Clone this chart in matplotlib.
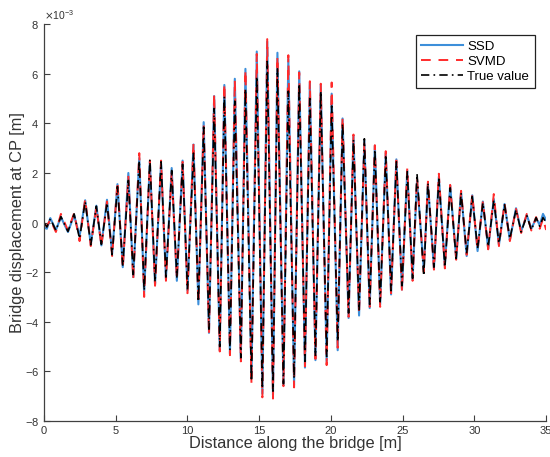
import matplotlib
matplotlib.use("Agg")
import matplotlib.pyplot as plt
from matplotlib.ticker import ScalarFormatter
import numpy as np

# peak/trough positions along the bridge [m]
dist_extrema = [
    0.00, 0.20, 0.44, 0.83, 1.18, 1.67, 2.10, 2.48, 2.87, 3.26,
    3.65, 4.00, 4.39, 4.75, 5.12, 5.49, 5.88, 6.22, 6.64, 6.98,
    7.38, 7.74, 8.16, 8.50, 8.90, 9.26, 9.66, 10.00, 10.42, 10.76,
    11.13, 11.50, 11.86, 12.25, 12.57, 12.96, 13.30, 13.72, 14.04, 14.46,
    14.83, 15.22, 15.56, 15.96, 16.27, 16.69, 17.03, 17.43, 17.79, 18.19,
    18.53, 18.92, 19.29, 19.70, 20.05, 20.47, 20.81, 21.23, 21.57, 21.96,
    22.33, 22.70, 23.06, 23.43, 23.82, 24.19, 24.56, 24.95, 25.32, 25.69,
    26.00, 26.47, 26.76, 27.18, 27.52, 27.94, 28.31, 28.73, 29.07, 29.46,
    29.85, 30.22, 30.59, 30.96, 31.35, 31.71, 32.10, 32.47, 32.90, 33.26,
    33.65, 33.97, 34.30, 34.55, 34.78, 35.00,
]

# displacement at the extrema, in mm (x10^-3 m)
ssd_mm = [
    -0.20, -0.25, 0.18, -0.30, 0.22, -0.38, 0.30, -0.55, 0.90, -0.88,
    0.68, -0.92, 0.92, -1.25, 1.55, -1.80, 2.00, -2.20, 2.60, -2.85,
    2.45, -2.50, 2.40, -2.25, 2.20, -2.35, 2.50, -2.75, 3.15, -3.30,
    4.05, -4.45, 5.10, -5.15, 5.55, -5.30, 5.80, -5.50, 6.20, -6.25,
    6.90, -6.90, 7.30, -6.95, 6.85, -6.55, 6.60, -6.55, 6.10, -5.85,
    5.65, -5.55, 5.55, -5.60, 5.20, -5.15, 4.20, -3.85, 3.50, -3.75,
    3.30, -3.45, 3.10, -3.30, 2.80, -2.90, 2.55, -2.70, 2.10, -2.30,
    1.70, -1.90, 1.55, -1.85, 1.85, -1.75, 1.50, -1.45, 1.25, -1.35,
    1.10, -1.15, 0.85, -1.05, 0.95, -0.90, 0.75, -0.70, 0.58, -0.35,
    0.30, -0.25, 0.18, -0.10, 0.35, 0.10,
]

svmd_mm = [
    -0.05, -0.15, 0.12, -0.38, 0.35, -0.32, 0.38, -0.75, 0.95, -0.95,
    0.62, -0.95, 0.85, -1.35, 1.65, -1.85, 1.85, -2.30, 2.80, -3.00,
    2.50, -2.55, 2.50, -2.35, 2.05, -2.30, 2.45, -2.85, 3.20, -3.25,
    3.95, -4.50, 5.20, -5.20, 5.60, -5.35, 5.75, -5.60, 6.15, -6.50,
    6.80, -7.05, 7.40, -7.10, 6.70, -6.60, 6.75, -6.65, 6.05, -5.80,
    5.70, -5.50, 5.60, -5.75, 5.65, -5.05, 4.25, -3.80, 3.55, -3.70,
    3.25, -3.40, 3.12, -3.40, 2.88, -2.85, 2.50, -2.75, 2.20, -2.35,
    1.80, -2.00, 1.65, -1.90, 1.97, -1.85, 1.52, -1.50, 1.28, -1.30,
    1.13, -1.10, 0.85, -1.08, 1.15, -0.95, 0.78, -0.75, 0.55, -0.42,
    0.35, -0.32, 0.22, -0.25, 0.15, -0.30,
]

true_mm = [
    0.00, -0.18, 0.15, -0.32, 0.24, -0.36, 0.35, -0.65, 0.85, -0.90,
    0.66, -0.88, 0.80, -1.30, 1.45, -1.75, 1.70, -2.10, 2.50, -2.75,
    2.55, -2.40, 2.45, -2.20, 2.10, -2.20, 2.35, -2.70, 2.80, -3.20,
    3.85, -4.30, 4.60, -5.00, 5.10, -5.15, 4.90, -5.45, 5.40, -6.40,
    5.90, -6.70, 6.50, -6.80, 6.20, -6.50, 5.30, -6.30, 5.60, -5.60,
    5.00, -5.40, 5.30, -5.40, 4.70, -4.80, 4.00, -3.65, 3.35, -3.55,
    3.38, -3.30, 2.95, -3.20, 2.65, -2.75, 2.45, -2.55, 2.05, -2.25,
    1.97, -2.15, 1.60, -1.80, 1.75, -1.80, 1.40, -1.45, 1.20, -1.25,
    1.05, -1.05, 0.80, -0.98, 0.90, -0.85, 0.72, -0.65, 0.52, -0.38,
    0.28, -0.30, 0.20, -0.15, 0.20, 0.00,
]

x_ticks = [0, 5, 10, 15, 20, 25, 30, 35]
y_ticks_mm = [-8, -6, -4, -2, 0, 2, 4, 6, 8]

plt.rcParams["font.family"] = "Liberation Sans"
plt.rcParams["axes.unicode_minus"] = False

fig = plt.figure(figsize=(5.5, 4.57), dpi=100)
ax = fig.add_axes([0.080, 0.079, 0.913, 0.868])

x = np.array(dist_extrema)
ax.plot(x, np.array(ssd_mm) * 1e-3, color="#3d8fda", lw=1.5, label="SSD")
ax.plot(x, np.array(svmd_mm) * 1e-3, color="#ff2b2b", lw=1.4,
        dashes=(5, 4), label="SVMD")
ax.plot(x, np.array(true_mm) * 1e-3, color="black", lw=1.2,
        dashes=(5, 2.5, 1, 2.5), label="True value")

ax.set_xlim(0, 35)
ax.set_ylim(-8e-3, 8e-3)
ax.set_xticks(x_ticks)
ax.set_yticks(np.array(y_ticks_mm) * 1e-3)

fmt = ScalarFormatter(useMathText=True)
fmt.set_powerlimits((0, 0))
ax.yaxis.set_major_formatter(fmt)
ax.yaxis.get_offset_text().set_fontsize(7.5)
ax.yaxis.get_offset_text().set_color("#777777")

for side in ("top", "right"):
    ax.spines[side].set_visible(False)
for side in ("left", "bottom"):
    ax.spines[side].set_color("#404040")
    ax.spines[side].set_linewidth(0.9)

ax.tick_params(direction="in", length=4, width=0.8, colors="#404040",
               labelsize=8, labelcolor="#333333")

ax.set_xlabel("Distance along the bridge [m]", fontsize=11.8, color="#333333",
              labelpad=0)
ax.set_ylabel("Bridge displacement at CP [m]", fontsize=11.8, color="#333333",
              labelpad=0)

leg = ax.legend(loc="upper right", bbox_to_anchor=(0.977, 0.972),
                fontsize=9.5, fancybox=False, framealpha=1,
                edgecolor="#222222", handlelength=3.2, borderpad=0.4,
                labelspacing=0.2, handletextpad=0.3, borderaxespad=0)
leg.get_frame().set_linewidth(0.9)

fig.savefig("out.png", dpi=100)
